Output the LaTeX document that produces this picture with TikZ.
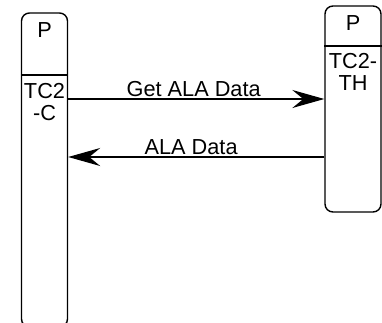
\documentclass[tikz,border=0pt]{standalone}
\usepackage{fontspec}
\setmainfont{Liberation Sans}
\usetikzlibrary{arrows.meta}
\begin{document}
\begin{tikzpicture}[x=1bp,y=-1bp,
  lifebox/.style={draw, line width=1.4bp, rounded corners=8bp, inner sep=0pt},
  lbl/.style={font=\fontsize{21.8}{22.5}\selectfont, inner sep=0pt, align=center},
  msg/.style={line width=1.3bp, -{Stealth[length=32bp, width=18bp, inset=11bp]}}]
\useasboundingbox (0,0) rectangle (382,323);
\clip (0,0) rectangle (382,323);
\node[lifebox, minimum width=46bp, minimum height=314bp] (L) at (44.5,170) {};
\node[lifebox, minimum width=56bp, minimum height=206bp] (R) at (353,109) {};
\draw[line width=1.2bp] (L.west |- 0,75) -- (L.east |- 0,75);
\draw[line width=1.2bp] (R.west |- 0,46) -- (R.east |- 0,46);
\node[lbl, anchor=base] (LP) at (44.5,37.5) {P};
\node[lbl, anchor=base] (RP) at (353,30) {P};
\node[lbl, anchor=north] (LT) at (44.5,83) {TC2\\-C};
\node[lbl, anchor=north] (RT) at (353,53) {TC2-\\TH};
\draw[msg] (L.east |- 0,99) -- (R.west |- 0,99)
  node[lbl, pos=0.49, anchor=south, yshift=1.5bp] (m1) {Get ALA Data};
\draw[msg] (R.west |- 0,157) -- (L.east |- 0,157)
  node[lbl, pos=0.52, anchor=south, yshift=1.5bp] (m2) {ALA Data};
\end{tikzpicture}
\end{document}
